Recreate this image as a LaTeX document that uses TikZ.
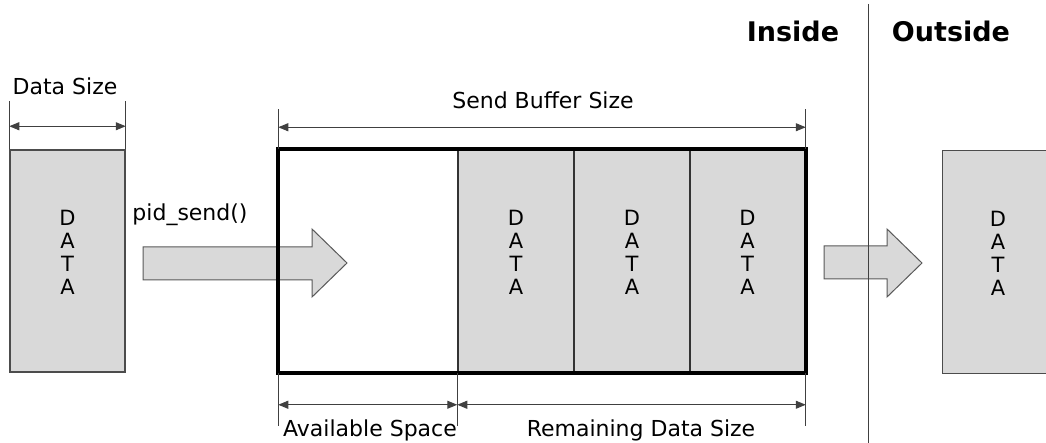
\documentclass[tikz,border=0pt]{standalone}
\usepackage{fontspec}
\setmainfont{DejaVu Sans}
\usetikzlibrary{arrows.meta,positioning}
\begin{document}
\begin{tikzpicture}[x=1pt,y=-1pt,line join=miter,>={Triangle[length=10pt,width=8pt]}]
	\tikzset{every node/.style={font=\fontsize{22}{24}\selectfont},
		cell/.style={draw=black!80,line width=1.5pt,fill=black!15,minimum height=222pt,inner sep=0pt,align=center,text depth=18pt,font=\fontsize{21}{23}\selectfont},
		tick/.style={draw=black!75,line width=1pt},
		dim/.style={<->,draw=black!75,line width=1pt},
		fatarrow/.style={draw=black!65,line width=1pt,fill=black!15}}
	\def\W{1046} \def\H{443}
	\useasboundingbox (0,0) rectangle (\W,\H);
	\clip (0,0) rectangle (\W,\H);
	% input data and pid_send()
	\node[cell,draw=black!70,minimum width=115pt] (src) at (67.5,261) {D\\A\\T\\A};
	\node[cell,fill=white,minimum width=179pt] (free) at (368.5,261) {};
	\draw[fatarrow] (143,247)--(312,247)--(312,229)--(347,263)--(312,297)--(312,280)--(143,280)--cycle;
	\node (call) at (190,215) {pid\_send()};
	% send buffer
	\node[cell,minimum width=116pt] (c1) at (516,261) {D\\A\\T\\A};
	\node[cell,minimum width=116pt] (c2) at (632,261) {D\\A\\T\\A};
	\node[cell,minimum width=115pt] (c3) at (747.5,261) {D\\A\\T\\A};
	\draw[line width=4pt] (free.north west) rectangle (c3.south east);
	% sizes
	\draw[tick] (src.north west)--++(0,-48) (src.north east)--++(0,-48);
	\draw[dim] ([yshift=23pt]src.north west)--([yshift=23pt]src.north east);
	\node (dsize) at (65,86) {Data Size};
	\draw[tick] (free.north west)--++(0,-40) (c3.north east)--++(0,-40);
	\draw[dim] ([yshift=22pt]free.north west)--([yshift=22pt]c3.north east);
	\node (bsize) at (543,100) {Send Buffer Size};
	\draw[tick] (free.south west)--++(0,53) (c1.south west)--++(0,53) (c3.south east)--++(0,53);
	\draw[dim] ([yshift=-32pt]free.south west)--([yshift=-32pt]c1.south west);
	\draw[dim] ([yshift=-32pt]c1.south west)--([yshift=-32pt]c3.south east);
	\node (avail) at (370,430) {Available Space};
	\node (remain) at (641,430) {Remaining Data Size};
	% outside
	\draw[fatarrow] (824,246)--(887,246)--(887,229)--(922,263)--(887,297)--(887,279)--(824,279)--cycle;
	\node[cell,draw=black!70,line width=1pt,minimum width=112pt] (dst) at (998,262) {D\\A\\T\\A};
	\draw[black!75,line width=1pt] (868,4)--(868,\H);
	\node[font=\fontsize{27}{30}\selectfont\bfseries] (inside) at (793,31) {Inside};
	\node[font=\fontsize{27}{30}\selectfont\bfseries] (outside) at (951,31) {Outside};
\end{tikzpicture}
\end{document}
